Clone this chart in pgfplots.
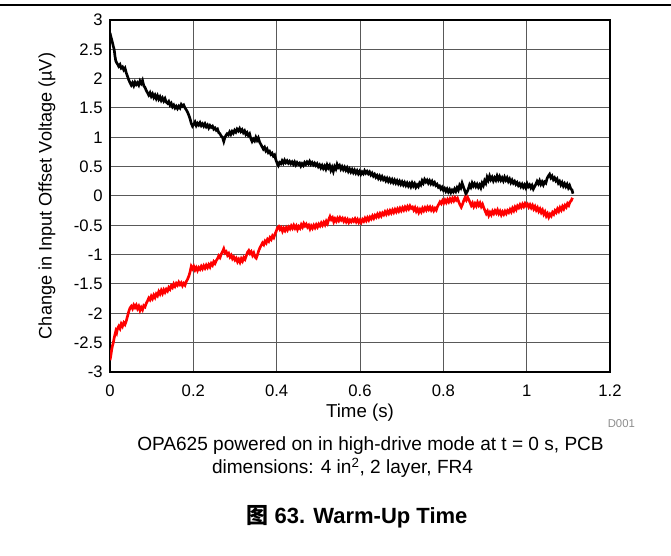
\documentclass[border=0pt]{standalone}
\usepackage{fontspec}
\setmainfont{Liberation Sans}
\newfontfamily\cjk{Noto Sans CJK SC}
\usepackage{pgfplots}
\pgfplotsset{compat=1.18}

\begin{document}
\begin{tikzpicture}
\path[use as bounding box] (0,0) rectangle (503.25pt,417pt);
\draw[line width=1.5pt] (0,413.25pt) -- (503.25pt,413.25pt);

\begin{axis}[
  at={(82.5pt,138pt)}, anchor=south west,
  scale only axis, width=375pt, height=264pt,
  xmin=0, xmax=1.2, ymin=-3, ymax=3,
  xtick={0,0.2,...,1.2}, ytick={-3,-2.5,...,3},
  major tick length=0pt,
  grid=major,
  major grid style={black!65, line width=0.75pt},
  axis line style={line width=1.5pt},
  /pgf/number format/assume math mode=true,
  yticklabel style={/pgf/number format/fixed, xshift=-2pt},
  xticklabel style={/pgf/number format/fixed, yshift=-6pt},
  tick label style={font=\fontsize{12.5}{14}\selectfont},
  xlabel style={font=\fontsize{14}{16}\selectfont},
  ylabel style={font=\fontsize{13.6}{16}\selectfont},
  xlabel={Time (s)},
  ylabel={Change in Input Offset Voltage (µV)},
  xlabel style={at={(axis description cs:0.5,-0.1165)}, anchor=center},
  ylabel style={at={(axis description cs:-0.126,0.5)}, anchor=center},
]
% positive drift trace
\addplot[black, line width=2pt] coordinates {
(0.000,2.78) (0.002,2.72) (0.005,2.64) (0.008,2.55) (0.010,2.50) (0.012,2.38)
(0.014,2.30) (0.016,2.27) (0.018,2.25) (0.021,2.21) (0.024,2.24) (0.027,2.18)
(0.030,2.20) (0.033,2.15) (0.036,2.18) (0.039,2.10) (0.042,2.04) (0.045,1.98)
(0.048,1.93) (0.051,1.89) (0.054,1.93) (0.057,1.88) (0.060,1.94) (0.063,1.90)
(0.066,1.93) (0.069,1.89) (0.072,1.96) (0.075,1.92) (0.078,1.97) (0.081,1.88)
(0.084,1.85) (0.087,1.80) (0.090,1.76) (0.093,1.72) (0.096,1.76) (0.099,1.70)
(0.102,1.74) (0.105,1.68) (0.108,1.72) (0.111,1.66) (0.114,1.71) (0.117,1.65)
(0.120,1.69) (0.123,1.63) (0.126,1.67) (0.129,1.62) (0.132,1.66) (0.135,1.60)
(0.138,1.58) (0.141,1.61) (0.144,1.55) (0.147,1.58) (0.150,1.52) (0.153,1.55)
(0.156,1.50) (0.159,1.53) (0.162,1.49) (0.165,1.53) (0.168,1.50) (0.171,1.56)
(0.174,1.53) (0.177,1.55) (0.180,1.50) (0.183,1.47) (0.186,1.43) (0.189,1.38)
(0.192,1.32) (0.195,1.24) (0.198,1.19) (0.201,1.22) (0.204,1.26) (0.207,1.20)
(0.210,1.24) (0.213,1.21) (0.216,1.25) (0.219,1.20) (0.222,1.23) (0.225,1.19)
(0.228,1.23) (0.231,1.18) (0.234,1.21) (0.237,1.16) (0.240,1.20) (0.243,1.17)
(0.246,1.19) (0.249,1.14) (0.252,1.16) (0.255,1.12) (0.258,1.14) (0.261,1.08)
(0.264,1.06) (0.267,1.02) (0.270,1.00) (0.273,0.93) (0.275,0.98) (0.278,1.03)
(0.281,1.06) (0.284,1.04) (0.287,1.09) (0.290,1.05) (0.293,1.10) (0.296,1.07)
(0.299,1.12) (0.302,1.09) (0.305,1.14) (0.308,1.11) (0.311,1.15) (0.314,1.10)
(0.317,1.13) (0.320,1.08) (0.323,1.11) (0.326,1.05) (0.329,1.08) (0.332,1.03)
(0.335,1.06) (0.338,0.98) (0.341,0.93) (0.344,0.97) (0.347,0.94) (0.350,1.00)
(0.353,0.95) (0.356,0.99) (0.359,0.92) (0.362,0.88) (0.365,0.84) (0.368,0.80)
(0.371,0.83) (0.374,0.77) (0.377,0.80) (0.380,0.74) (0.383,0.76) (0.386,0.71)
(0.389,0.73) (0.392,0.68) (0.395,0.70) (0.398,0.62) (0.401,0.56) (0.404,0.52)
(0.407,0.57) (0.410,0.55) (0.413,0.60) (0.416,0.56) (0.419,0.61) (0.422,0.57)
(0.425,0.60) (0.428,0.56) (0.431,0.59) (0.434,0.55) (0.437,0.58) (0.440,0.54)
(0.443,0.58) (0.446,0.53) (0.449,0.57) (0.452,0.54) (0.455,0.56) (0.458,0.51)
(0.461,0.55) (0.464,0.52) (0.467,0.57) (0.470,0.54) (0.473,0.58) (0.476,0.55)
(0.479,0.59) (0.482,0.54) (0.485,0.57) (0.488,0.53) (0.491,0.56) (0.494,0.52)
(0.497,0.55) (0.500,0.50) (0.503,0.53) (0.506,0.48) (0.509,0.52) (0.512,0.47)
(0.515,0.51) (0.518,0.46) (0.521,0.53) (0.524,0.48) (0.527,0.52) (0.530,0.44)
(0.533,0.49) (0.536,0.42) (0.539,0.50) (0.542,0.46) (0.545,0.54) (0.548,0.49)
(0.551,0.52) (0.554,0.46) (0.557,0.50) (0.560,0.45) (0.563,0.49) (0.566,0.44)
(0.569,0.48) (0.572,0.42) (0.575,0.46) (0.578,0.41) (0.581,0.45) (0.584,0.40)
(0.587,0.44) (0.590,0.39) (0.593,0.43) (0.596,0.38) (0.599,0.42) (0.602,0.37)
(0.605,0.41) (0.608,0.38) (0.611,0.43) (0.614,0.39) (0.617,0.42) (0.620,0.38)
(0.623,0.41) (0.626,0.36) (0.629,0.39) (0.632,0.34) (0.635,0.37) (0.638,0.32)
(0.641,0.35) (0.644,0.30) (0.647,0.34) (0.650,0.29) (0.653,0.33) (0.656,0.28)
(0.659,0.31) (0.662,0.26) (0.665,0.30) (0.668,0.25) (0.671,0.29) (0.674,0.24)
(0.677,0.28) (0.680,0.23) (0.683,0.27) (0.686,0.22) (0.689,0.26) (0.692,0.21)
(0.695,0.25) (0.698,0.20) (0.701,0.24) (0.704,0.19) (0.707,0.23) (0.710,0.18)
(0.713,0.22) (0.716,0.17) (0.719,0.21) (0.722,0.16) (0.725,0.22) (0.728,0.17)
(0.731,0.21) (0.734,0.15) (0.737,0.19) (0.740,0.16) (0.743,0.22) (0.746,0.19)
(0.749,0.26) (0.752,0.22) (0.755,0.28) (0.758,0.24) (0.761,0.27) (0.764,0.22)
(0.767,0.26) (0.770,0.21) (0.773,0.25) (0.776,0.20) (0.779,0.23) (0.782,0.18)
(0.785,0.20) (0.788,0.15) (0.791,0.17) (0.794,0.12) (0.797,0.15) (0.800,0.10)
(0.803,0.13) (0.806,0.08) (0.809,0.12) (0.812,0.07) (0.815,0.11) (0.818,0.06)
(0.821,0.10) (0.824,0.07) (0.827,0.12) (0.830,0.08) (0.833,0.14) (0.836,0.10)
(0.839,0.18) (0.842,0.14) (0.845,0.22) (0.848,0.16) (0.851,0.10) (0.854,0.04)
(0.857,0.07) (0.860,0.12) (0.863,0.19) (0.866,0.15) (0.869,0.22) (0.872,0.17)
(0.875,0.21) (0.878,0.16) (0.881,0.20) (0.884,0.15) (0.887,0.19) (0.890,0.14)
(0.893,0.22) (0.896,0.18) (0.899,0.26) (0.902,0.22) (0.905,0.32) (0.908,0.27)
(0.911,0.34) (0.914,0.28) (0.917,0.32) (0.920,0.26) (0.923,0.31) (0.926,0.27)
(0.929,0.34) (0.932,0.28) (0.935,0.33) (0.938,0.27) (0.941,0.31) (0.944,0.26)
(0.947,0.32) (0.950,0.27) (0.953,0.31) (0.956,0.25) (0.959,0.29) (0.962,0.23)
(0.965,0.27) (0.968,0.22) (0.971,0.25) (0.974,0.20) (0.977,0.23) (0.980,0.18)
(0.983,0.21) (0.986,0.16) (0.989,0.20) (0.992,0.15) (0.995,0.19) (0.998,0.14)
(1.001,0.21) (1.004,0.16) (1.007,0.19) (1.010,0.14) (1.013,0.18) (1.016,0.12)
(1.019,0.16) (1.022,0.20) (1.025,0.25) (1.028,0.21) (1.031,0.26) (1.034,0.20)
(1.037,0.24) (1.040,0.19) (1.043,0.24) (1.046,0.22) (1.049,0.30) (1.052,0.34)
(1.055,0.37) (1.058,0.31) (1.061,0.34) (1.064,0.28) (1.067,0.31) (1.070,0.26)
(1.073,0.29) (1.076,0.22) (1.079,0.25) (1.082,0.19) (1.085,0.23) (1.088,0.17)
(1.091,0.21) (1.094,0.16) (1.097,0.20) (1.100,0.14) (1.103,0.18) (1.106,0.12)
(1.109,0.10) (1.111,0.04)
};
% negative drift trace
\addplot[red, line width=2pt] coordinates {
(0.000,-2.80) (0.002,-2.72) (0.004,-2.62) (0.006,-2.55) (0.008,-2.50) (0.010,-2.42)
(0.012,-2.36) (0.014,-2.30) (0.016,-2.33) (0.018,-2.26) (0.021,-2.22) (0.024,-2.26)
(0.027,-2.18) (0.030,-2.22) (0.033,-2.16) (0.036,-2.19) (0.039,-2.13) (0.042,-2.05)
(0.045,-1.97) (0.048,-1.91) (0.051,-1.88) (0.054,-1.92) (0.057,-1.86) (0.060,-1.90)
(0.063,-1.86) (0.066,-1.92) (0.069,-1.88) (0.072,-1.95) (0.075,-1.90) (0.078,-1.94)
(0.081,-1.87) (0.084,-1.89) (0.087,-1.83) (0.090,-1.79) (0.093,-1.74) (0.096,-1.77)
(0.099,-1.71) (0.102,-1.75) (0.105,-1.69) (0.108,-1.73) (0.111,-1.67) (0.114,-1.70)
(0.117,-1.63) (0.120,-1.67) (0.123,-1.61) (0.126,-1.66) (0.129,-1.60) (0.132,-1.64)
(0.135,-1.59) (0.138,-1.62) (0.141,-1.56) (0.144,-1.59) (0.147,-1.53) (0.150,-1.56)
(0.153,-1.50) (0.156,-1.54) (0.159,-1.49) (0.162,-1.52) (0.165,-1.47) (0.168,-1.51)
(0.171,-1.48) (0.174,-1.53) (0.177,-1.49) (0.180,-1.52) (0.183,-1.46) (0.186,-1.42)
(0.189,-1.37) (0.192,-1.30) (0.195,-1.20) (0.198,-1.24) (0.201,-1.20) (0.204,-1.26)
(0.207,-1.22) (0.210,-1.27) (0.213,-1.22) (0.216,-1.25) (0.219,-1.20) (0.222,-1.24)
(0.225,-1.19) (0.228,-1.23) (0.231,-1.18) (0.234,-1.22) (0.237,-1.17) (0.240,-1.21)
(0.243,-1.15) (0.246,-1.18) (0.249,-1.12) (0.252,-1.15) (0.255,-1.10) (0.258,-1.07)
(0.261,-1.02) (0.264,-1.05) (0.267,-0.99) (0.270,-0.95) (0.273,-0.90) (0.276,-0.97)
(0.279,-0.95) (0.282,-1.01) (0.285,-0.98) (0.288,-1.04) (0.291,-1.01) (0.294,-1.07)
(0.297,-1.04) (0.300,-1.09) (0.303,-1.06) (0.306,-1.12) (0.309,-1.08) (0.312,-1.13)
(0.315,-1.07) (0.318,-1.11) (0.321,-1.05) (0.324,-1.08) (0.327,-1.02) (0.330,-0.96)
(0.333,-0.93) (0.336,-0.98) (0.339,-0.95) (0.342,-1.01) (0.345,-0.97) (0.348,-1.04)
(0.351,-1.06) (0.354,-1.00) (0.357,-0.93) (0.360,-0.88) (0.363,-0.84) (0.366,-0.80)
(0.369,-0.83) (0.372,-0.77) (0.375,-0.80) (0.378,-0.74) (0.381,-0.77) (0.384,-0.71)
(0.387,-0.74) (0.390,-0.68) (0.393,-0.71) (0.396,-0.65) (0.399,-0.60) (0.402,-0.54)
(0.405,-0.52) (0.408,-0.57) (0.411,-0.54) (0.414,-0.60) (0.417,-0.55) (0.420,-0.59)
(0.423,-0.54) (0.426,-0.58) (0.429,-0.53) (0.432,-0.56) (0.435,-0.51) (0.438,-0.55)
(0.441,-0.50) (0.444,-0.55) (0.447,-0.51) (0.450,-0.57) (0.453,-0.52) (0.456,-0.55)
(0.459,-0.49) (0.462,-0.53) (0.465,-0.47) (0.468,-0.51) (0.471,-0.48) (0.474,-0.53)
(0.477,-0.50) (0.480,-0.56) (0.483,-0.51) (0.486,-0.55) (0.489,-0.50) (0.492,-0.54)
(0.495,-0.49) (0.498,-0.53) (0.501,-0.48) (0.504,-0.51) (0.507,-0.46) (0.510,-0.50)
(0.513,-0.45) (0.516,-0.49) (0.519,-0.43) (0.522,-0.47) (0.525,-0.40) (0.528,-0.35)
(0.531,-0.40) (0.534,-0.37) (0.537,-0.44) (0.540,-0.39) (0.543,-0.43) (0.546,-0.38)
(0.549,-0.42) (0.552,-0.37) (0.555,-0.41) (0.558,-0.38) (0.561,-0.43) (0.564,-0.39)
(0.567,-0.44) (0.570,-0.40) (0.573,-0.45) (0.576,-0.41) (0.579,-0.44) (0.582,-0.40)
(0.585,-0.43) (0.588,-0.39) (0.591,-0.44) (0.594,-0.40) (0.597,-0.45) (0.600,-0.41)
(0.603,-0.45) (0.606,-0.40) (0.609,-0.43) (0.612,-0.38) (0.615,-0.42) (0.618,-0.37)
(0.621,-0.41) (0.624,-0.36) (0.627,-0.39) (0.630,-0.34) (0.633,-0.38) (0.636,-0.33)
(0.639,-0.36) (0.642,-0.31) (0.645,-0.35) (0.648,-0.30) (0.651,-0.34) (0.654,-0.29)
(0.657,-0.32) (0.660,-0.27) (0.663,-0.31) (0.666,-0.26) (0.669,-0.30) (0.672,-0.25)
(0.675,-0.29) (0.678,-0.24) (0.681,-0.28) (0.684,-0.23) (0.687,-0.27) (0.690,-0.22)
(0.693,-0.26) (0.696,-0.21) (0.699,-0.25) (0.702,-0.20) (0.705,-0.24) (0.708,-0.19)
(0.711,-0.23) (0.714,-0.18) (0.717,-0.22) (0.720,-0.17) (0.723,-0.21) (0.726,-0.19)
(0.729,-0.24) (0.732,-0.20) (0.735,-0.26) (0.738,-0.22) (0.741,-0.28) (0.744,-0.23)
(0.747,-0.27) (0.750,-0.21) (0.753,-0.25) (0.756,-0.20) (0.759,-0.24) (0.762,-0.19)
(0.765,-0.23) (0.768,-0.19) (0.771,-0.24) (0.774,-0.20) (0.777,-0.25) (0.780,-0.21)
(0.783,-0.24) (0.786,-0.18) (0.789,-0.14) (0.792,-0.10) (0.795,-0.13) (0.798,-0.08)
(0.801,-0.12) (0.804,-0.07) (0.807,-0.11) (0.810,-0.06) (0.813,-0.10) (0.816,-0.05)
(0.819,-0.09) (0.822,-0.04) (0.825,-0.08) (0.828,-0.03) (0.831,-0.07) (0.834,-0.04)
(0.837,-0.10) (0.840,-0.15) (0.843,-0.19) (0.846,-0.14) (0.849,-0.08) (0.852,-0.03)
(0.855,-0.07) (0.858,-0.02) (0.861,-0.06) (0.864,-0.11) (0.867,-0.16) (0.870,-0.12)
(0.873,-0.18) (0.876,-0.13) (0.879,-0.17) (0.882,-0.11) (0.885,-0.16) (0.888,-0.12)
(0.891,-0.18) (0.894,-0.14) (0.897,-0.20) (0.900,-0.25) (0.903,-0.30) (0.906,-0.26)
(0.909,-0.33) (0.912,-0.28) (0.915,-0.32) (0.918,-0.26) (0.921,-0.30) (0.924,-0.25)
(0.927,-0.29) (0.930,-0.24) (0.933,-0.30) (0.936,-0.26) (0.939,-0.32) (0.942,-0.27)
(0.945,-0.31) (0.948,-0.26) (0.951,-0.30) (0.954,-0.25) (0.957,-0.28) (0.960,-0.23)
(0.963,-0.27) (0.966,-0.21) (0.969,-0.25) (0.972,-0.19) (0.975,-0.23) (0.978,-0.17)
(0.981,-0.20) (0.984,-0.15) (0.987,-0.19) (0.990,-0.14) (0.993,-0.18) (0.996,-0.13)
(0.999,-0.17) (1.002,-0.14) (1.005,-0.19) (1.008,-0.15) (1.011,-0.20) (1.014,-0.16)
(1.017,-0.22) (1.020,-0.18) (1.023,-0.24) (1.026,-0.20) (1.029,-0.26) (1.032,-0.22)
(1.035,-0.28) (1.038,-0.24) (1.041,-0.31) (1.044,-0.27) (1.047,-0.34) (1.050,-0.30)
(1.053,-0.36) (1.056,-0.31) (1.059,-0.34) (1.062,-0.28) (1.065,-0.31) (1.068,-0.25)
(1.071,-0.28) (1.074,-0.22) (1.077,-0.26) (1.080,-0.20) (1.083,-0.24) (1.086,-0.18)
(1.089,-0.22) (1.092,-0.16) (1.095,-0.19) (1.098,-0.13) (1.101,-0.16) (1.104,-0.10)
(1.107,-0.08) (1.110,-0.03)
};
\end{axis}

\node[text=black!45, font=\fontsize{8.5}{10}\selectfont] at (466pt,99pt) {D001};
\node[anchor=base, font=\fontsize{14.3}{16}\selectfont, inner sep=0pt] at (277.9pt,78.75pt)
  {OPA625 powered on in high-drive mode at t = 0 s, PCB};
\node[anchor=base, font=\fontsize{14.3}{16}\selectfont, inner sep=0pt] at (256.9pt,61.5pt)
  {dimensions: 4 in\textsuperscript{2}, 2 layer, FR4};
\node[anchor=base, font=\fontsize{16.5}{18}\selectfont\bfseries, inner sep=0pt] at (267.75pt,24pt)
  {{\cjk 图} 63. Warm-Up Time};
\end{tikzpicture}
\end{document}
